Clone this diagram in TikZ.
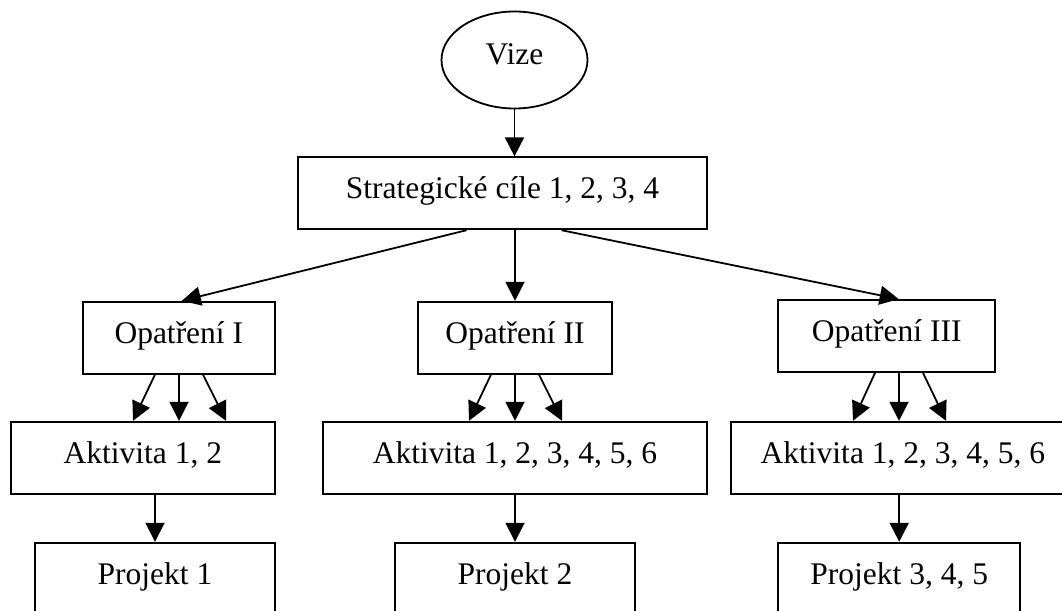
\documentclass[tikz,border=0pt]{standalone}
\usepackage{fontspec}
\usepackage{tikz}
\usetikzlibrary{calc,shapes.geometric,arrows.meta}
\newfontfamily\tnr{Liberation Serif}
\newcommand\boxfont{\tnr\fontsize{31.5}{38}\selectfont}

\begin{document}
\begin{tikzpicture}[
    x=1pt, y=-1pt,
    box/.style={draw, rectangle, line width=1.8pt, inner xsep=0pt, inner ysep=0pt,
      text height=41.5pt, text depth=30.5pt, anchor=base, font=\boxfont},
    arr/.style={-{Triangle[length=19pt,width=19pt]}, line width=1.8pt}
  ]
    \useasboundingbox (0,0) rectangle (1062,610);
    \clip (0,0) rectangle (1062,610);

    \node[draw, ellipse, line width=1.8pt, inner sep=0pt, minimum width=146pt, minimum height=97pt,
      text height=21pt, text depth=13pt, font=\boxfont] (vize) at (514.5,60) {Vize};

    \node[box, minimum width=408.4pt] (cile) at (502.5,198.8) {Strategické cíle 1, 2, 3, 4};

    \node[box, minimum width=192.3pt] (opI) at (178.8,343.2) {Opatření I};
    \node[box, minimum width=193.4pt] (opII) at (515,343.2) {Opatření II};
    \node[box, minimum width=216.7pt] (opIII) at (886.7,341.5) {Opatření III};

    \node[box, minimum width=264.3pt] (akI) at (142.8,463.2) {Aktivita 1, 2};
    \node[box, minimum width=384.6pt] (akII) at (515,463.2) {Aktivita 1, 2, 3, 4, 5, 6};
    \node[box, minimum width=344.3pt] (akIII) at (902.9,463.2) {Aktivita 1, 2, 3, 4, 5, 6};

    \node[box, minimum width=240pt, text depth=80pt] (prI) at (155,584.2) {Projekt 1};
    \node[box, minimum width=240pt, text depth=80pt] (prII) at (515,584.2) {Projekt 2};
    \node[box, minimum width=241.7pt, text depth=80pt] (prIII) at (899.2,584.2) {Projekt 3, 4, 5};

    \draw[arr] (vize.south) -- (vize.south |- cile.north);

    \draw[arr] ([xshift=-36pt]cile.south) -- ([xshift=3pt]opI.north);
    \draw[arr] (cile.south -| opII.north) -- (opII.north);
    \draw[arr] ([xshift=59pt]cile.south) -- ([xshift=12pt]opIII.north);

    \foreach \o/\a/\m in {opI/akI/179, opII/akII/515, opIII/akIII/899}{
      \foreach \s/\e in {-24/-46, 0/0, 24/47}{
        \draw[arr] ($(\m,0 |- \o.south)+(\s,0)$) -- ($(\m,0 |- \a.north)+(\e,0)$);
      }
    }

    \draw[arr] (prI.north |- akI.south) -- (prI.north);
    \draw[arr] (prII.north |- akII.south) -- (prII.north);
    \draw[arr] (prIII.north |- akIII.south) -- (prIII.north);

  \end{tikzpicture}
\end{document}
